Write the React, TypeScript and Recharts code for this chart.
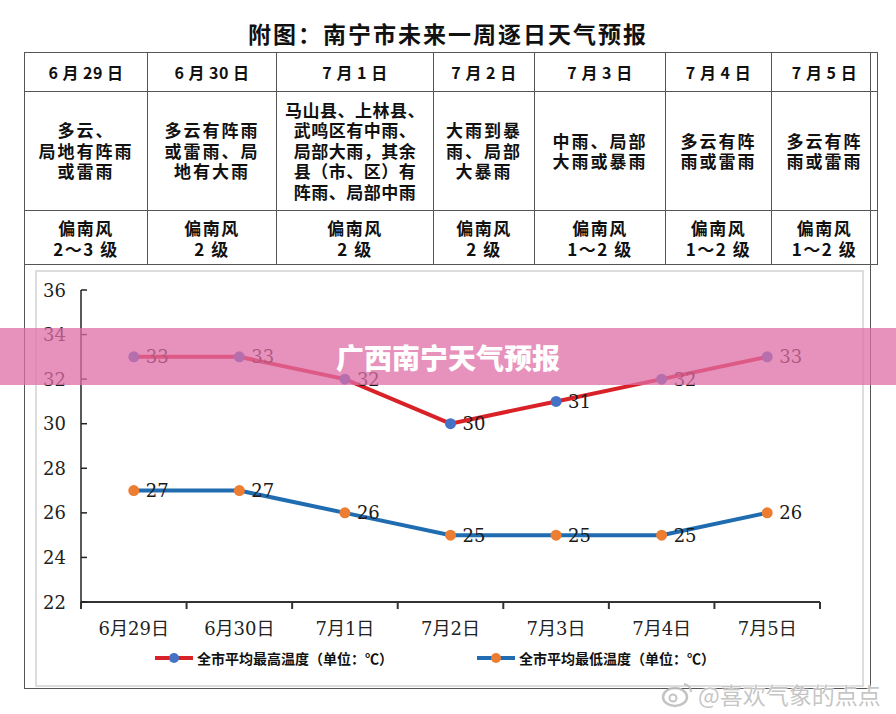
import { LineChart, Line, XAxis, YAxis, LabelList } from "recharts";

const days = ["6月29日", "6月30日", "7月1日", "7月2日", "7月3日", "7月4日", "7月5日"];
const highTemps = [33, 33, 32, 30, 31, 32, 33];
const lowTemps = [27, 27, 26, 25, 25, 25, 26];
const yTicks = [22, 24, 26, 28, 30, 32, 34, 36];

const tableDates = ["6 月 29 日", "6 月 30 日", "7 月 1 日", "7 月 2 日", "7 月 3 日", "7 月 4 日", "7 月 5 日"];
const tableWeather = [
  ["多云、", "局地有阵雨", "或雷雨"],
  ["多云有阵雨", "或雷雨、局", "地有大雨"],
  ["马山县、上林县、", "武鸣区有中雨、", "局部大雨，其余", "县（市、区）有", "阵雨、局部中雨"],
  ["大雨到暴", "雨、局部", "大暴雨"],
  ["中雨、局部", "大雨或暴雨"],
  ["多云有阵", "雨或雷雨"],
  ["多云有阵", "雨或雷雨"],
];
const tableWind = [
  ["偏南风", "2～3 级"],
  ["偏南风", "2 级"],
  ["偏南风", "2 级"],
  ["偏南风", "2 级"],
  ["偏南风", "1～2 级"],
  ["偏南风", "1～2 级"],
  ["偏南风", "1～2 级"],
];

const data = days.map((d, i) => ({ day: d, high: highTemps[i], low: lowTemps[i] }));

const colWidths = [122, 128, 156, 100, 130, 105, 105];
const PLOT_LEFT = 81;
const PLOT_RIGHT = 820;
const PLOT_BOTTOM = 602;
const BAND = (PLOT_RIGHT - PLOT_LEFT) / days.length;
const serif = "'DejaVu Serif', 'Noto Sans CJK SC', serif";
const cjk = "'Noto Sans CJK SC', sans-serif";

const XTick = (props: any) => {
  const { x, payload, index } = props;
  const left = x - BAND / 2;
  return (
    <g>
      <line x1={left} y1={PLOT_BOTTOM} x2={left} y2={PLOT_BOTTOM + 7} stroke="#333" strokeWidth={2} />
      {index === days.length - 1 && (
        <line x1={x + BAND / 2} y1={PLOT_BOTTOM} x2={x + BAND / 2} y2={PLOT_BOTTOM + 7} stroke="#333" strokeWidth={2} />
      )}
      <text x={x} y={PLOT_BOTTOM + 26} textAnchor="middle" dominantBaseline="central" fontSize={18} fontFamily={serif} fill="#222">
        {payload.value}
      </text>
    </g>
  );
};

const YTick = (props: any) => {
  const { y, payload } = props;
  return (
    <g>
      <line x1={PLOT_LEFT} y1={y} x2={PLOT_LEFT + 6} y2={y} stroke="#222" strokeWidth={1.5} />
      <text x={PLOT_LEFT - 15} y={y} textAnchor="end" dominantBaseline="central" fontSize={18} fontFamily={serif} fill="#222">
        {payload.value}
      </text>
    </g>
  );
};

const cell = (w: number, extra: any = {}) => ({
  width: w,
  border: "1px solid #555",
  textAlign: "center" as const,
  padding: 0,
  ...extra,
});

function LegendMark({ line, dot }: { line: string; dot: string }) {
  return (
    <svg width={40} height={12} style={{ marginRight: 3 }}>
      <line x1={1} y1={6} x2={39} y2={6} stroke={line} strokeWidth={4} />
      <circle cx={20} cy={6} r={5} fill={dot} />
    </svg>
  );
}

export default function App() {
  return (
    <div style={{ position: "absolute", left: 0, top: 0, width: 896, height: 714, background: "#fff", overflow: "hidden" }}>
      <div
        style={{
          position: "absolute",
          top: 16,
          left: 0,
          width: 896,
          textAlign: "center",
          fontFamily: cjk,
          fontWeight: 700,
          fontSize: 23,
          letterSpacing: 2,
          color: "#111",
        }}
      >
        附图：南宁市未来一周逐日天气预报
      </div>

      <div style={{ position: "absolute", left: 24, top: 52, width: 845, height: 635, border: "1px solid #555" }} />
      <div style={{ position: "absolute", left: 35, top: 270, width: 825, height: 413, border: "2px solid #ddd" }} />

      <table
        style={{
          position: "absolute",
          left: 24,
          top: 52,
          borderCollapse: "collapse",
          tableLayout: "fixed",
          fontFamily: cjk,
          fontWeight: 700,
          color: "#111",
        }}
      >
        <tbody>
          <tr style={{ height: 39 }}>
            {tableDates.map((d, i) => (
              <td key={i} style={cell(colWidths[i], { fontSize: 16, letterSpacing: 0.5 })}>
                {d}
              </td>
            ))}
          </tr>
          <tr style={{ height: 119 }}>
            {tableWeather.map((lines, i) => (
              <td
                key={i}
                style={cell(colWidths[i], {
                  fontSize: 17,
                  lineHeight: "20.5px",
                  letterSpacing: i === 2 ? 0.5 : 2,
                })}
              >
                {lines.map((l, j) => (
                  <div key={j}>{l}</div>
                ))}
              </td>
            ))}
          </tr>
          <tr style={{ height: 54 }}>
            {tableWind.map((lines, i) => (
              <td key={i} style={cell(colWidths[i], { fontSize: 17, lineHeight: "21px", letterSpacing: 1.5 })}>
                {lines.map((l, j) => (
                  <div key={j}>{l}</div>
                ))}
              </td>
            ))}
          </tr>
        </tbody>
      </table>

      <div style={{ position: "absolute", left: 0, top: 0 }}>
        <LineChart width={896} height={714} data={data} margin={{ top: 290, right: 76, bottom: 72, left: 0 }}>
          <XAxis
            dataKey="day"
            height={40}
            padding={{ left: BAND / 2, right: BAND / 2 }}
            axisLine={{ stroke: "#333", strokeWidth: 2 }}
            tickLine={false}
            tick={<XTick />}
            interval={0}
          />
          <YAxis
            width={81}
            domain={[22, 36]}
            ticks={yTicks}
            axisLine={{ stroke: "#222", strokeWidth: 1.5 }}
            tickLine={false}
            tick={<YTick />}
          />
          <Line
            dataKey="high"
            stroke="#d92228"
            strokeWidth={4}
            dot={{ r: 5.5, fill: "#4472c4", stroke: "none" }}
            activeDot={false}
            isAnimationActive={false}
          >
            <LabelList dataKey="high" position="right" offset={12} fontSize={18} fontFamily={serif} fill="#1a1a1a" />
          </Line>
          <Line
            dataKey="low"
            stroke="#1f6db0"
            strokeWidth={4}
            dot={{ r: 5.5, fill: "#ed7d31", stroke: "none" }}
            activeDot={false}
            isAnimationActive={false}
          >
            <LabelList dataKey="low" position="right" offset={12} fontSize={18} fontFamily={serif} fill="#1a1a1a" />
          </Line>
        </LineChart>
      </div>

      <div style={{ position: "absolute", left: 154, top: 648, display: "flex", alignItems: "center", fontFamily: cjk, fontWeight: 700, fontSize: 14, color: "#111" }}>
        <LegendMark line="#d92228" dot="#4472c4" />
        全市平均最高温度（单位：℃）
      </div>
      <div style={{ position: "absolute", left: 476, top: 648, display: "flex", alignItems: "center", fontFamily: cjk, fontWeight: 700, fontSize: 14, color: "#111" }}>
        <LegendMark line="#1f6db0" dot="#ed7d31" />
        全市平均最低温度（单位：℃）
      </div>

      <div
        style={{
          position: "absolute",
          left: 0,
          top: 328,
          width: 896,
          height: 57,
          background: "rgba(222,110,165,0.75)",
          display: "flex",
          alignItems: "center",
          justifyContent: "center",
          fontFamily: cjk,
          fontWeight: 900,
          fontSize: 28,
          color: "#fff",
        }}
      >
        广西南宁天气预报
      </div>

      <div
        style={{
          position: "absolute",
          left: 660,
          top: 677,
          display: "flex",
          alignItems: "center",
          fontFamily: cjk,
          fontSize: 23,
          color: "rgba(190,190,190,0.9)",
          textShadow: "0 0 2px #fff, 0 0 2px #fff",
        }}
      >
        <svg width={34} height={28} style={{ marginRight: 4 }}>
          <ellipse cx={15} cy={17} rx={12} ry={9} fill="none" stroke="rgba(190,190,190,0.9)" strokeWidth={2.5} />
          <circle cx={13} cy={18} r={3.5} fill="none" stroke="rgba(190,190,190,0.9)" strokeWidth={2} />
          <path d="M24 4 A8 8 0 0 1 31 12" fill="none" stroke="rgba(190,190,190,0.9)" strokeWidth={2} />
        </svg>
        @喜欢气象的点点
      </div>
    </div>
  );
}
